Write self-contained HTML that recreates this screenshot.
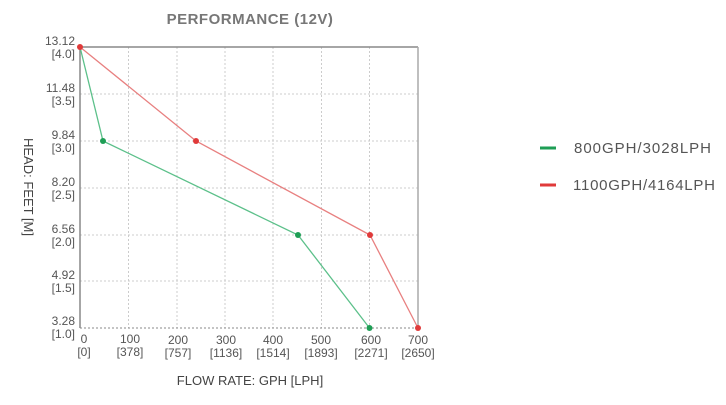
<!DOCTYPE html>
<html><head><style>
body{margin:0;background:#fff;width:726px;height:400px;overflow:hidden}
svg text{font-family:"Liberation Sans",sans-serif}
</style></head><body>
<svg width="726" height="400" viewBox="0 0 726 400" xmlns="http://www.w3.org/2000/svg">
<text x="250" y="24" font-size="15" font-weight="bold" fill="#777" text-anchor="middle" letter-spacing="0.5">PERFORMANCE (12V)</text>
<g stroke="#ccc" stroke-dasharray="2,2" stroke-width="1">
<line x1="128.5" y1="47" x2="128.5" y2="328"/><line x1="177" y1="47" x2="177" y2="328"/>
<line x1="225" y1="47" x2="225" y2="328"/><line x1="273" y1="47" x2="273" y2="328"/>
<line x1="321.5" y1="47" x2="321.5" y2="328"/><line x1="369.5" y1="47" x2="369.5" y2="328"/>
<line x1="80" y1="94" x2="418" y2="94"/><line x1="80" y1="141" x2="418" y2="141"/>
<line x1="80" y1="188" x2="418" y2="188"/><line x1="80" y1="235" x2="418" y2="235"/>
<line x1="80" y1="281" x2="418" y2="281"/><line x1="80" y1="328" x2="418" y2="328" stroke="#888"/>
</g>
<line x1="80" y1="47" x2="418" y2="47" stroke="#888" stroke-width="1.5"/>
<line x1="80" y1="47" x2="80" y2="328" stroke="#888" stroke-width="1.5"/>
<line x1="418" y1="47" x2="418" y2="328" stroke="#aaa" stroke-width="1.5"/>
<polyline points="80,47 103,141 298,235 369.5,328" fill="none" stroke="#5cc08a" stroke-width="1.3"/>
<polyline points="80,47 196,141 370,235 418,328" fill="none" stroke="#e88080" stroke-width="1.3"/>
<g fill="#1e9e55"><circle cx="103" cy="141" r="3"/><circle cx="298" cy="235" r="3"/><circle cx="369.5" cy="328" r="3"/></g>
<g fill="#e03a3a"><circle cx="80" cy="47" r="3"/><circle cx="196" cy="141" r="3"/><circle cx="370" cy="235" r="3"/><circle cx="418" cy="328" r="3"/></g>
<g font-size="12" fill="#555" text-anchor="end">
<text x="75" y="45">13.12</text><text x="75" y="58">[4.0]</text>
<text x="75" y="92">11.48</text><text x="75" y="105">[3.5]</text>
<text x="75" y="139">9.84</text><text x="75" y="152">[3.0]</text>
<text x="75" y="186">8.20</text><text x="75" y="199">[2.5]</text>
<text x="75" y="233">6.56</text><text x="75" y="246">[2.0]</text>
<text x="75" y="279">4.92</text><text x="75" y="292">[1.5]</text>
<text x="75" y="325">3.28</text><text x="75" y="338">[1.0]</text>
</g>
<g font-size="12" fill="#555" text-anchor="middle">
<text x="84" y="343">0</text><text x="84" y="356">[0]</text>
<text x="130" y="343">100</text><text x="130" y="356">[378]</text>
<text x="178" y="344">200</text><text x="178" y="357">[757]</text>
<text x="226" y="344">300</text><text x="226" y="357">[1136]</text>
<text x="273" y="344">400</text><text x="273" y="357">[1514]</text>
<text x="321" y="344">500</text><text x="321" y="357">[1893]</text>
<text x="371" y="344">600</text><text x="371" y="357">[2271]</text>
<text x="418" y="344">700</text><text x="418" y="357">[2650]</text>
</g>
<text x="250" y="385" font-size="13" fill="#444" text-anchor="middle">FLOW RATE: GPH [LPH]</text>
<text transform="translate(24,187) rotate(90)" font-size="13" fill="#444" text-anchor="middle">HEAD: FEET [M]</text>
<line x1="540" y1="148" x2="556" y2="148" stroke="#1e9e55" stroke-width="3"/>
<text x="574" y="153" font-size="15" fill="#555" textLength="137">800GPH/3028LPH</text>
<line x1="540" y1="185" x2="556" y2="185" stroke="#e03a3a" stroke-width="3"/>
<text x="573" y="190" font-size="15" fill="#555" textLength="142">1100GPH/4164LPH</text>
</svg>
</body></html>
